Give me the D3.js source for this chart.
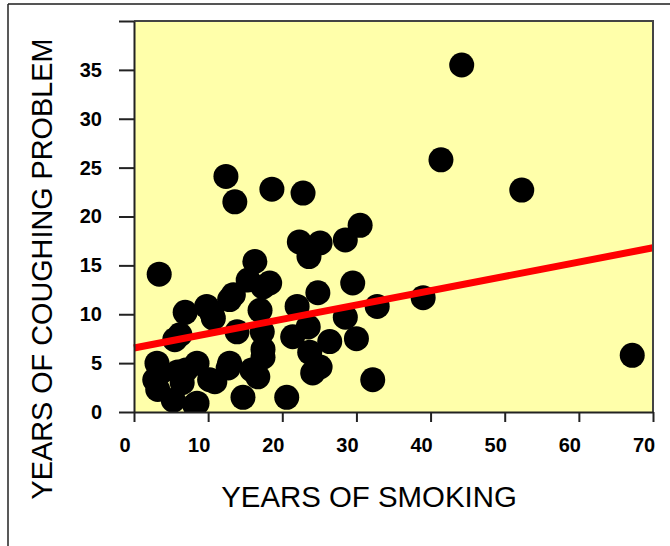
<!DOCTYPE html>
<html>
<head>
<meta charset="utf-8">
<script src="https://cdn.jsdelivr.net/npm/d3@7"></script>
<style>
  body { margin: 0; background: #fff; }
  svg { display: block; }
  .tick text { font-family: "Liberation Sans", Arial, sans-serif; font-weight: bold; font-size: 20px; fill: #000; }
  .title { font-family: "Liberation Sans", Arial, sans-serif; fill: #000; }
</style>
</head>
<body>
<script>
// years of smoking vs years of coughing problem
const smokeYears = [44.2, 41.4, 52.3, 67.2, 39.0, 32.8, 32.2, 12.4, 13.6, 18.6,
                    22.8, 3.4, 30.5, 22.3, 25.1, 23.6, 28.5, 16.3, 15.4, 18.3,
                    13.4, 6.9, 9.8, 10.7, 17.0, 13.9, 17.3, 5.5, 3.1, 2.8,
                    3.2, 5.3, 5.9, 8.5, 8.5, 10.9, 12.7, 14.7, 15.9, 17.4,
                    16.7, 20.6, 22.0, 24.8, 21.4, 23.5, 26.4, 23.7, 25.1, 24.1,
                    28.5, 30.0, 29.5, 10.5, 12.9, 17.4, 6.2, 8.2, 7.0, 10.2,
                    12.9, 17.4, 3.5, 6.5];
const coughYears = [35.5, 25.8, 22.7, 5.8, 11.7, 10.8, 3.3, 24.1, 21.5, 22.8,
                    22.4, 14.1, 19.1, 17.4, 17.3, 15.9, 17.6, 15.4, 13.5, 13.2,
                    12.0, 10.2, 10.8, 9.6, 10.4, 8.2, 8.2, 7.4, 5.0, 3.3,
                    2.3, 1.2, 4.1, 5.0, 0.9, 3.1, 4.5, 1.5, 4.3, 5.6,
                    3.6, 1.5, 10.8, 12.2, 7.7, 8.7, 7.2, 6.1, 4.6, 4.0,
                    9.7, 7.5, 13.2, 10.1, 11.5, 12.8, 7.9, 0.7, 4.3, 3.3,
                    5.0, 6.4, 4.0, 3.0];
const fitX = [0, 70];
const fitY = [6.55, 16.8];
const xTicks = [0, 10, 20, 30, 40, 50, 60, 70];
const yTicks = [0, 5, 10, 15, 20, 25, 30, 35, 40];
const yLabels = [0, 5, 10, 15, 20, 25, 30, 35];

const width = 670, height = 546;
const plotLeft = 134, plotRight = 653, plotTop = 21, plotBottom = 412;

const svg = d3.select("body").append("svg")
  .attr("width", width)
  .attr("height", height);

// outer frame
svg.append("line").attr("x1", 8).attr("x2", width).attr("y1", 4).attr("y2", 4)
  .attr("stroke", "#555").attr("stroke-width", 2);
svg.append("line").attr("x1", 8).attr("x2", 8).attr("y1", 4).attr("y2", height)
  .attr("stroke", "#222").attr("stroke-width", 1.5);

const x = d3.scaleLinear().domain([0, 70]).range([plotLeft, plotRight]);
const y = d3.scaleLinear().domain([0, 40]).range([plotBottom, plotTop]);

svg.append("rect")
  .attr("x", plotLeft).attr("y", plotTop)
  .attr("width", plotRight - plotLeft).attr("height", plotBottom - plotTop)
  .attr("fill", "#ffffaa");

svg.append("clipPath").attr("id", "plot")
  .append("rect")
  .attr("x", plotLeft).attr("y", plotTop)
  .attr("width", plotRight - plotLeft).attr("height", plotBottom - plotTop);

const points = smokeYears.map((d, i) => ({ x: d, y: coughYears[i] }));

svg.append("g").attr("clip-path", "url(#plot)")
  .selectAll("circle")
  .data(points)
  .enter()
  .append("circle")
  .attr("cx", d => x(d.x))
  .attr("cy", d => y(d.y))
  .attr("r", 12.5)
  .attr("fill", "#000");

const line = d3.line().x(d => x(d[0])).y(d => y(d[1]));
svg.append("path")
  .datum(fitX.map((d, i) => [d, fitY[i]]))
  .attr("d", line)
  .attr("stroke", "#ff0000")
  .attr("stroke-width", 7)
  .attr("fill", "none");

// top and right frame of plot
svg.append("path")
  .attr("d", `M${plotLeft},${plotTop}H${plotRight}V${plotBottom}`)
  .attr("fill", "none").attr("stroke", "#444").attr("stroke-width", 2);

const xAxis = svg.append("g")
  .attr("transform", `translate(0,${plotBottom})`)
  .call(d3.axisBottom(x).tickValues(xTicks).tickSize(10).tickSizeOuter(0).tickPadding(16));
xAxis.selectAll("text").attr("dx", -9.5);

const yAxis = svg.append("g")
  .attr("transform", `translate(${plotLeft},0)`)
  .call(d3.axisLeft(y).tickValues(yTicks).tickSize(15).tickSizeOuter(0).tickPadding(17)
    .tickFormat(d => yLabels.includes(d) ? d : ""));

svg.selectAll(".domain").attr("stroke", "#222").attr("stroke-width", 2);
svg.selectAll(".tick line").attr("stroke", "#222").attr("stroke-width", 2);

svg.append("text").attr("class", "title")
  .attr("x", 369).attr("y", 507)
  .attr("text-anchor", "middle")
  .style("font-size", "29.4px")
  .text("YEARS OF SMOKING");

svg.append("text").attr("class", "title")
  .attr("transform", "translate(52,269) rotate(-90)")
  .attr("text-anchor", "middle")
  .style("font-size", "28.8px")
  .text("YEARS OF COUGHING PROBLEM");
</script>
</body>
</html>
